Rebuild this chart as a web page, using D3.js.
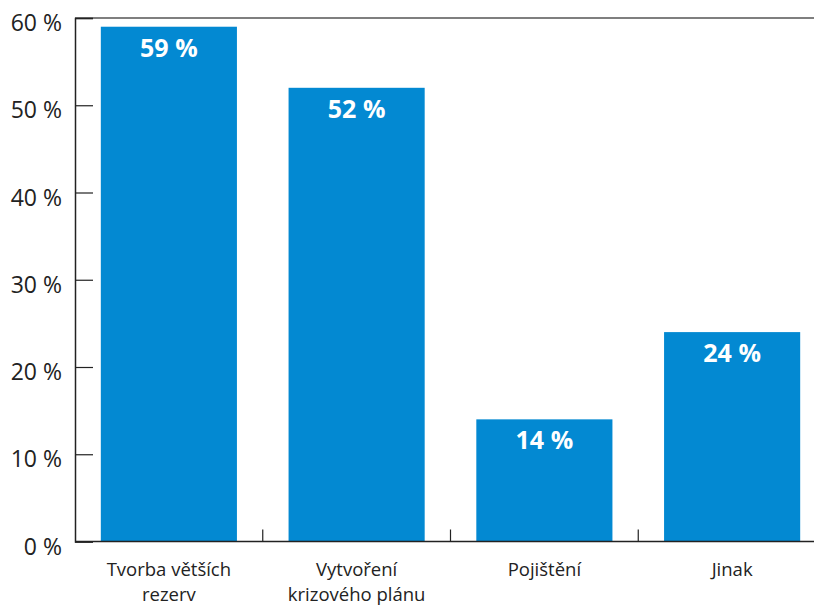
<!DOCTYPE html>
<html>
<head>
<meta charset="utf-8">
<script src="https://cdn.jsdelivr.net/npm/d3@7"></script>
<style>
  body { margin: 0; background: #fff; }
  text { font-family: "Open Sans", "Noto Sans", sans-serif; }
</style>
</head>
<body>
<div id="chart"></div>
<script>
// data
var categories = [['Tvorba větších', 'rezerv'], ['Vytvoření', 'krizového plánu'], ['Pojištění'], ['Jinak']];
var values = [59, 52, 14, 24];
var yTicks = [0, 10, 20, 30, 40, 50, 60];

var width = 814, height = 605;
var plotLeft = 75, plotTop = 18, plotBottom = 541.5, plotRight = 826;

var svg = d3.select('#chart').append('svg')
    .attr('width', width)
    .attr('height', height);

var x = d3.scaleBand()
    .domain(d3.range(values.length))
    .range([plotLeft, plotRight])
    .paddingInner(0.275)
    .paddingOuter(0.1375);

var y = d3.scaleLinear()
    .domain([0, 60])
    .range([plotBottom, plotTop]);

// top frame line
svg.append('line')
    .attr('x1', plotLeft).attr('x2', width)
    .attr('y1', y(60)).attr('y2', y(60))
    .attr('stroke', '#555').attr('stroke-width', 1.5);

// bars
svg.selectAll('rect.bar')
    .data(values)
    .enter()
    .append('rect')
    .attr('class', 'bar')
    .attr('x', function(d, i) { return x(i); })
    .attr('y', function(d) { return y(d); })
    .attr('width', x.bandwidth())
    .attr('height', function(d) { return y(0) - y(d); })
    .attr('fill', '#0389d2');

// value labels
svg.selectAll('text.val')
    .data(values)
    .enter()
    .append('text')
    .attr('class', 'val')
    .attr('x', function(d, i) { return x(i) + x.bandwidth() / 2; })
    .attr('y', function(d) { return y(d) + 30; })
    .attr('text-anchor', 'middle')
    .attr('fill', '#fff')
    .attr('font-weight', 'bold')
    .attr('font-size', 25)
    .text(function(d) { return d + ' %'; });

// y axis
var yAxis = svg.append('g')
    .attr('transform', 'translate(' + plotLeft + ',0)')
    .call(d3.axisRight(y).tickValues(yTicks).tickSize(18).tickFormat(function(d) { return d + ' %'; }));
yAxis.select('.domain').attr('stroke', '#222').attr('stroke-width', 1.5);
yAxis.selectAll('.tick line').attr('stroke', '#222').attr('stroke-width', 1.2);
yAxis.selectAll('.tick text')
    .attr('x', -13)
    .attr('dy', '0.55em')
    .attr('text-anchor', 'end')
    .attr('font-size', 23)
    .attr('font-family', '"Open Sans", sans-serif')
    .attr('fill', '#222');

// x axis baseline + separators
svg.append('line')
    .attr('x1', plotLeft).attr('x2', width)
    .attr('y1', y(0)).attr('y2', y(0))
    .attr('stroke', '#222').attr('stroke-width', 1.5);

var step = x.step();
svg.selectAll('line.sep')
    .data(d3.range(1, values.length))
    .enter()
    .append('line')
    .attr('class', 'sep')
    .attr('x1', function(i) { return x(i) - step * x.paddingInner() / 2; })
    .attr('x2', function(i) { return x(i) - step * x.paddingInner() / 2; })
    .attr('y1', y(0)).attr('y2', y(0) - 12)
    .attr('stroke', '#222').attr('stroke-width', 1.2);

// category labels, one text per line
categories.forEach(function(lines, i) {
  lines.forEach(function(line, j) {
    svg.append('text')
        .attr('class', 'cat')
        .attr('x', x(i) + x.bandwidth() / 2)
        .attr('y', 576 + j * 25)
        .attr('text-anchor', 'middle')
        .attr('font-size', 18.5)
        .attr('fill', '#222')
        .text(line);
  });
});
</script>
</body>
</html>
